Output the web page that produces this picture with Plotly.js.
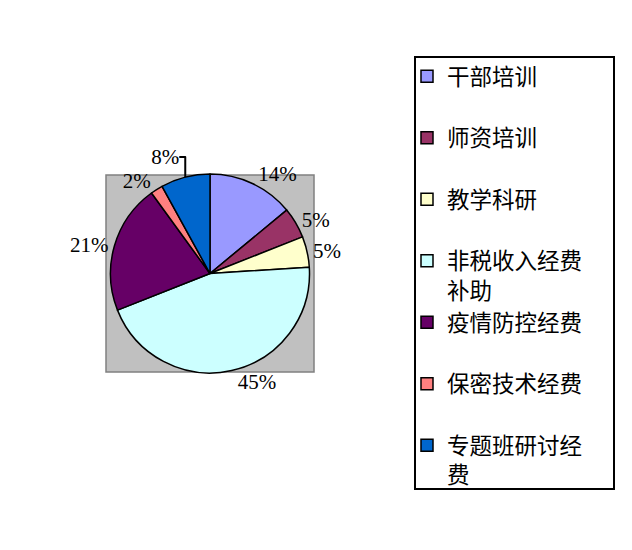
<!DOCTYPE html>
<html>
<head>
<meta charset="utf-8">
<script src="https://cdn.plot.ly/plotly-3.0.1.min.js"></script>
<style>html,body{margin:0;padding:0;background:#fff;}#chart{width:632px;height:550px;}</style>
</head>
<body>
<div id="chart"></div>
<script>
// ---- data ----
const categories = ['干部培训','师资培训','教学科研','非税收入经费补助','疫情防控经费','保密技术经费','专题班研讨经费'];
const values = [14, 5, 5, 45, 21, 2, 8];
const colors = ['#9999FF','#993366','#FFFFCC','#CCFFFF','#660066','#FF8080','#0066CC'];

// legend labels: wrap at 6 characters, and pad every entry to two lines
function legendLabel(s) {
  const first = s.slice(0, 6);
  const rest = s.slice(6);
  return first + '<br>' + (rest.length ? rest : '\u00a0');
}
const labels = categories.map(legendLabel);

const W = 632, H = 550;
const box = {x0: 106, x1: 314, y0: 175, y1: 372};
const legBox = {x0: 415, x1: 614, y0: 57, y1: 489};

const labelFont = {family: 'Liberation Serif, DejaVu Serif, serif', size: 21, color: '#000'};

const trace = {
  type: 'pie',
  labels: labels,
  values: values,
  sort: false,
  direction: 'clockwise',
  rotation: 0,
  marker: {colors: colors, line: {color: '#000', width: 1.5}},
  textposition: 'outside',
  texttemplate: '%{percent:.0%}',
  textfont: labelFont,
  outsidetextfont: labelFont,
  hoverinfo: 'label+value+percent',
  domain: {x: [(box.x0 - 2) / W, (box.x1 + 2) / W], y: [1 - (box.y1 + 1) / H, 1 - (box.y0 - 1) / H]},
  showlegend: true
};

const layout = {
  width: W, height: H,
  margin: {l: 0, r: 0, t: 0, b: 0},
  paper_bgcolor: '#fff',
  plot_bgcolor: '#fff',
  shapes: [{
    type: 'rect', xref: 'paper', yref: 'paper', layer: 'below',
    x0: box.x0 / W, x1: box.x1 / W, y0: 1 - box.y1 / H, y1: 1 - box.y0 / H,
    fillcolor: '#C0C0C0', line: {color: '#808080', width: 1.5}
  }, {
    type: 'rect', xref: 'paper', yref: 'paper', layer: 'below',
    x0: legBox.x0 / W, x1: legBox.x1 / W, y0: 1 - legBox.y1 / H, y1: 1 - legBox.y0 / H,
    fillcolor: '#fff', line: {color: '#000', width: 2}
  }],
  legend: {
    x: 407 / W, y: 1 - 55 / H, xanchor: 'left', yanchor: 'top',
    borderwidth: 0, bgcolor: 'rgba(0,0,0,0)',
    valign: 'top',
    font: {family: 'Noto Sans CJK SC, sans-serif', size: 22.5, color: '#000'},
    traceorder: 'normal'
  }
};

Plotly.newPlot('chart', [trace], layout, {displayModeBar: false, staticPlot: true});
</script>
</body>
</html>
